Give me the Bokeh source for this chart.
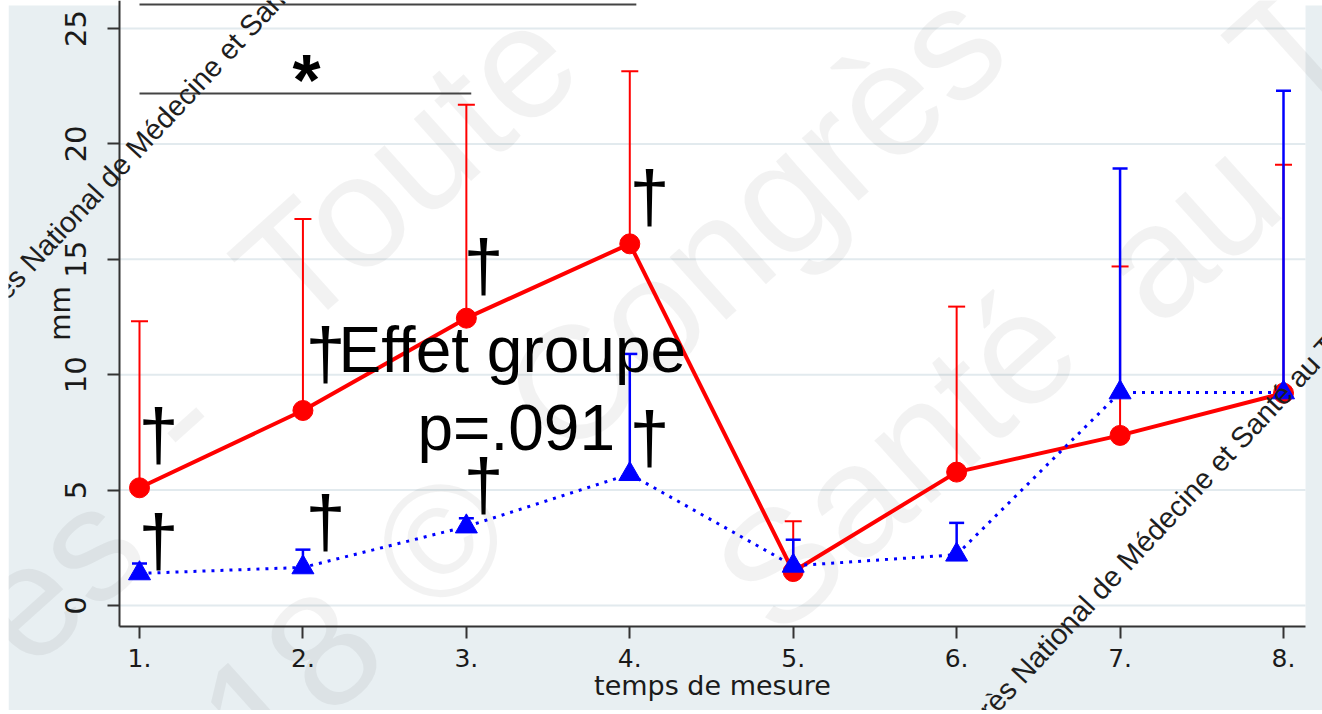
from bokeh.plotting import figure
from bokeh.models import Range1d, FixedTicker, Label, ColumnDataSource, Spacer
from bokeh.layouts import row
from bokeh.core.properties import value
from bokeh.embed import file_html
from bokeh.resources import INLINE

# ---------------- data ----------------
times = [1, 2, 3, 4, 5, 6, 7, 8]
tick_labels = ["1.", "2.", "3.", "4.", "5.", "6.", "7.", "8."]
y_ticks = [0, 5, 10, 15, 20, 25]

red_mean = [5.1, 8.45, 12.45, 15.67, 1.47, 5.78, 7.37, 9.2]
red_upper = [12.32, 16.75, 21.7, 23.15, 3.65, 12.95, 14.69, 19.1]
blue_mean = [1.39, 1.65, 3.42, 5.69, 1.72, 2.2, 9.23, 9.23]
blue_upper = [1.82, 2.42, 3.78, 10.9, 2.85, 3.58, 18.93, 22.3]

# annotations (placed in data coordinates)
dagger_x = [0.994, 0.994, 2.016, 2.982, 2.982, 3.998, 2.016, 3.998]
dagger_y = [7.45, 2.84, 3.64, 14.75, 5.26, 17.76, 10.96, 7.28]
note_text = ["Effet groupe", "p=.091"]
note_x = [2.218, 2.701]
note_y = [11.07, 7.69]

star_x = [2.022]
star_y = [22.77]
bracket_xs = [[1.0, 4.04], [1.0, 3.03]]
bracket_ys = [[26.04, 26.04], [22.18, 22.18]]

# plot-area and canvas extents (data units)
X_MIN, X_MAX = 0.19843, 8.2386       # whole canvas
Y_MIN, Y_MAX = -4.5494, 26.2132
AX_L, AX_R = 0.8776, 8.1346           # white plot area
AX_B = -0.91
PX_X, PX_Y = 163.43, 23.08            # pixels per data unit

# watermark words (canvas pixels)
wm_text = ["es", "-", "Toute", "18", "©", "Congrès", "Santé", "au", "T"]
wm_cx = [46, 169, 397, 282, 432, 745, 887, 1178, 1282]
wm_cy = [575, 415, 165, 680, 540, 220, 460, 229, 45]

dark_text = "Congrès National de Médecine et Santé au Travail"
dark_cx = [-63, 928]
dark_cy = [352, 764]

wm_x = [X_MIN + c / PX_X for c in wm_cx]
wm_y = [Y_MAX - c / PX_Y for c in wm_cy]

# ---------------- figure ----------------
p = figure(width=1314, height=710,
           x_range=Range1d(X_MIN, X_MAX), y_range=Range1d(Y_MIN, Y_MAX),
           output_backend="svg", toolbar_location=None,
           min_border_left=0, min_border_right=0,
           min_border_top=0, min_border_bottom=0)
p.background_fill_color = "white"
p.border_fill_color = "white"
p.outline_line_color = None
p.xgrid.grid_line_color = None
p.ygrid.grid_line_color = None

# blue-grey surround and white plot area
p.quad(left=[X_MIN], right=[X_MAX], bottom=[Y_MIN], top=[Y_MAX - 5 / PX_Y],
       fill_color="#e8eff2", line_color=None)
p.quad(left=[AX_L], right=[AX_R], bottom=[AX_B], top=[Y_MAX],
       fill_color="white", line_color=None)

# horizontal grid lines
p.segment(x0=[AX_L] * len(y_ticks), x1=[AX_R] * len(y_ticks), y0=y_ticks, y1=y_ticks,
          line_color="#e2eaee", line_width=2)

# faint watermark
p.text(x=wm_x, y=wm_y, text=wm_text, angle=42, angle_units="deg",
       text_font=value("Liberation Sans"), text_font_size="160px",
       text_color="black", text_alpha=0.05,
       text_align="center", text_baseline="middle")

# axes placed at the plot-area edges
for ax in (p.xaxis[0], p.yaxis[0]):
    ax.axis_line_width = 2
    ax.axis_line_color = "#333333"
    ax.major_tick_line_width = 2
    ax.major_tick_line_color = "#333333"
    ax.major_tick_out = 12
    ax.major_tick_in = 0
    ax.minor_tick_line_color = None
    ax.major_label_text_font = "DejaVu Sans"
    ax.major_label_text_color = "#1a1a1a"
    ax.axis_label_text_font = "DejaVu Sans"
    ax.axis_label_text_font_style = "normal"
    ax.axis_label_text_color = "#1a1a1a"

p.xaxis.fixed_location = AX_B
p.xaxis.bounds = (AX_L, AX_R)
p.xaxis.ticker = FixedTicker(ticks=times)
p.xaxis.major_label_overrides = {t: l for t, l in zip(times, tick_labels)}
p.xaxis.major_label_text_font_size = "25px"
p.xaxis.major_label_standoff = 10
p.xaxis.axis_label = "temps de mesure"
p.xaxis.axis_label_text_font_size = "27px"
p.xaxis.axis_label_standoff = 0

p.yaxis.fixed_location = AX_L
p.yaxis.bounds = (AX_B, Y_MAX)
p.yaxis.ticker = FixedTicker(ticks=y_ticks)
p.yaxis.major_label_orientation = "vertical"
p.yaxis.major_label_text_font_size = "29px"
p.yaxis.major_label_standoff = 21
p.yaxis.axis_label = "mm"
p.yaxis.axis_label_text_font_size = "28px"
p.yaxis.axis_label_standoff = -14

src = ColumnDataSource(dict(t=times, rm=red_mean, ru=red_upper,
                            bm=blue_mean, bu=blue_upper))

# error bars
p.segment(x0="t", y0="rm", x1="t", y1="ru", source=src, line_color="#ff0000", line_width=2)
p.scatter(x="t", y="ru", source=src, marker="dash", size=17, line_color="#ff0000", line_width=2)
p.segment(x0="t", y0="bm", x1="t", y1="bu", source=src, line_color="#0000ff", line_width=2.5)
p.scatter(x="t", y="bu", source=src, marker="dash", size=15, line_color="#0000ff", line_width=2.5)

# lines
p.line(x="t", y="rm", source=src, line_color="#ff0000", line_width=4)
p.line(x="t", y="bm", source=src, line_color="#0000ff", line_width=3, line_dash="3 6")

# markers
p.scatter(x="t", y="rm", source=src, marker="circle", size=20,
          fill_color="#ff0000", line_color="#ff0000")
p.scatter(x="t", y="bm", source=src, marker="triangle", size=22,
          fill_color="#0000ff", line_color="#0000ff")

# significance brackets
p.multi_line(xs=bracket_xs, ys=bracket_ys, line_color="#444444", line_width=2)
p.text(x=star_x, y=star_y, text=["*"], text_font=value("Liberation Sans"),
       text_font_size="72px", text_font_style="bold", text_color="black",
       text_align="center", text_baseline="alphabetic")

# annotations
p.text(x=dagger_x, y=dagger_y, text=["†"] * len(dagger_x),
       text_font=value("Liberation Sans"), text_font_size="72px",
       text_color="black", text_align="left", text_baseline="alphabetic")
p.text(x=note_x, y=note_y, text=note_text, text_font=value("Liberation Sans"),
       text_font_size="64px", text_color="black",
       text_align="left", text_baseline="alphabetic")

# dark rotated overlay text
for x, y in zip(dark_cx, dark_cy):
    p.add_layout(Label(x=x, y=y, x_units="canvas", y_units="canvas",
                       text=dark_text, angle=47, angle_units="deg",
                       text_font="Liberation Sans", text_font_size="29px",
                       text_color="#1e1e1e", text_align="left",
                       text_baseline="alphabetic"))

layout = row(Spacer(width=8, height=710), p)
open("out.html", "w").write(file_html(layout, INLINE))
